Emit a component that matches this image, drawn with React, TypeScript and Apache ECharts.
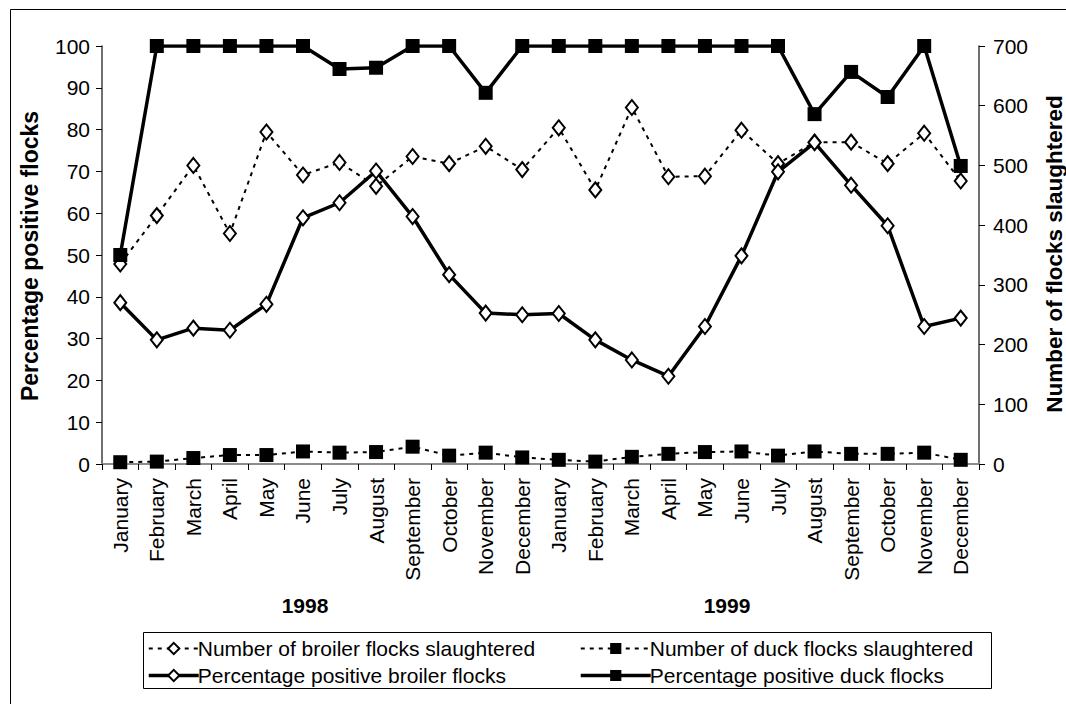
import React, { useEffect, useRef } from "react";
import * as echarts from "echarts";

// Month categories for two consecutive years
const months = [
  "January", "February", "March", "April", "May", "June",
  "July", "August", "September", "October", "November", "December",
];
const categories = [...months, ...months];
const yearLabels = ["1998", "1999"];

// Left axis: percentage, right axis: number of flocks
const pctTicks = { min: 0, max: 100, interval: 10 };
const countTicks = { min: 0, max: 700, interval: 100 };

const broilerSlaughtered = [
  335, 416, 500, 386, 556, 484, 505, 465, 515, 503, 532, 493,
  563, 459, 597, 481, 482, 559, 503, 539, 539, 503, 554, 474,
];
const duckSlaughtered = [
  3, 4, 10, 15, 15, 21, 19, 20, 29, 14, 19, 11,
  7, 4, 12, 17, 20, 21, 14, 21, 17, 17, 19, 7,
];
const pctBroilerPositive = [
  38.6, 29.7, 32.5, 32.0, 38.2, 58.9, 62.5, 70.1, 59.2, 45.3, 36.1, 35.7,
  36.0, 29.7, 24.9, 21.0, 32.9, 49.8, 69.9, 76.9, 66.7, 57.0, 32.9, 34.9,
];
const pctDuckPositive = [
  50, 100, 100, 100, 100, 100, 94.5, 94.8, 100, 100, 88.8, 100,
  100, 100, 100, 100, 100, 100, 100, 83.7, 93.8, 87.8, 100, 71.3,
];

const seriesNames = [
  "Number of broiler flocks slaughtered",
  "Number of duck flocks slaughtered",
  "Percentage positive broiler flocks",
  "Percentage positive duck flocks",
];

const FONT = "'Liberation Sans', Arial, sans-serif";

export default function App() {
  const ref = useRef<HTMLDivElement>(null);

  useEffect(() => {
    if (!ref.current) return;
    const chart = echarts.init(ref.current, undefined, { renderer: "svg" });

    const diamond = {
      symbol: "diamond",
      symbolSize: [12, 15],
      itemStyle: { color: "#ffffff", borderColor: "#000000", borderWidth: 2 },
    };
    const square = {
      symbol: "rect",
      symbolSize: 14,
      itemStyle: { color: "#000000", borderColor: "#000000", borderWidth: 0 },
    };
    const dashed = { color: "#000000", width: 2, type: [4, 5] };
    const solid = { color: "#000000", width: 3.5, type: "solid" };

    const axisText = { color: "#000000", fontSize: 21, fontFamily: FONT };
    const legendText = { color: "#000", fontSize: 21, fontFamily: FONT, padding: [0, 0, 0, -6] };
    const legendBase = {
      orient: "vertical",
      top: 638,
      padding: 0,
      itemGap: 6,
      itemHeight: 14,
      textStyle: legendText,
    };

    chart.setOption({
      animation: false,
      backgroundColor: "#ffffff",
      textStyle: { fontFamily: FONT },
      grid: { left: 102, right: 87, top: 46, bottom: 240, containLabel: false },
      xAxis: [
        {
          type: "category",
          data: categories,
          boundaryGap: true,
          axisLine: { lineStyle: { color: "#404040", width: 1.5 } },
          axisTick: { show: true, interval: 0, length: 6, lineStyle: { color: "#000" } },
          axisLabel: { ...axisText, rotate: 90, interval: 0, margin: 14 },
          splitLine: { show: false },
        },
        {
          type: "category",
          data: categories,
          position: "top",
          axisLine: { lineStyle: { color: "#8c8c8c", width: 2 } },
          axisTick: { show: false },
          axisLabel: { show: false },
        },
      ],
      yAxis: [
        {
          type: "value",
          ...pctTicks,
          position: "left",
          axisLine: { show: true, lineStyle: { color: "#404040", width: 1.5 } },
          axisTick: { show: true, length: 6, lineStyle: { color: "#000" } },
          axisLabel: { ...axisText, margin: 12 },
          splitLine: { show: false },
        },
        {
          type: "value",
          ...countTicks,
          position: "right",
          axisLine: { show: true, lineStyle: { color: "#404040", width: 1.5 } },
          axisTick: { show: true, length: 6, lineStyle: { color: "#000" } },
          axisLabel: { ...axisText, margin: 14 },
          splitLine: { show: false },
        },
      ],
      legend: [
        {
          ...legendBase,
          left: 147,
          itemWidth: 50,
          data: [
            { name: seriesNames[0], lineStyle: { width: 2, type: [4, 5] } },
            { name: seriesNames[2], lineStyle: { width: 3.5, type: "solid" } },
          ],
        },
        {
          ...legendBase,
          left: 579,
          itemWidth: 70,
          data: [
            { name: seriesNames[1], lineStyle: { width: 2, type: [4, 5] } },
            { name: seriesNames[3], lineStyle: { width: 3.5, type: "solid" } },
          ],
        },
      ],
      series: [
        {
          name: seriesNames[0],
          type: "line",
          yAxisIndex: 1,
          data: broilerSlaughtered,
          lineStyle: dashed,
          ...diamond,
          z: 2,
        },
        {
          name: seriesNames[1],
          type: "line",
          yAxisIndex: 1,
          data: duckSlaughtered,
          lineStyle: dashed,
          ...square,
          z: 3,
        },
        {
          name: seriesNames[2],
          type: "line",
          yAxisIndex: 0,
          data: pctBroilerPositive,
          lineStyle: solid,
          ...diamond,
          z: 4,
        },
        {
          name: seriesNames[3],
          type: "line",
          yAxisIndex: 0,
          data: pctDuckPositive,
          lineStyle: solid,
          ...square,
          z: 5,
        },
      ],
      graphic: [
        {
          type: "rect",
          shape: { x: 10.5, y: 9.5, width: 1100, height: 800 },
          style: { fill: "none", stroke: "#000", lineWidth: 1 },
          silent: true,
          z: -1,
        },
        {
          type: "rect",
          shape: { x: 143.5, y: 632.5, width: 848, height: 56 },
          style: { fill: "none", stroke: "#000", lineWidth: 1 },
          silent: true,
        },
        {
          type: "text",
          x: 30,
          y: 256,
          rotation: Math.PI / 2,
          style: {
            text: "Percentage positive flocks",
            font: `bold 23px ${FONT}`,
            fill: "#000",
            align: "center",
            verticalAlign: "middle",
          },
        },
        {
          type: "text",
          x: 1054,
          y: 254,
          rotation: Math.PI / 2,
          style: {
            text: "Number of flocks slaughtered",
            font: `bold 22.5px ${FONT}`,
            fill: "#000",
            align: "center",
            verticalAlign: "middle",
          },
        },
        {
          type: "text",
          x: 305,
          y: 605,
          style: {
            text: yearLabels[0],
            font: `bold 21px ${FONT}`,
            fill: "#000",
            align: "center",
            verticalAlign: "middle",
          },
        },
        {
          type: "text",
          x: 727,
          y: 605,
          style: {
            text: yearLabels[1],
            font: `bold 21px ${FONT}`,
            fill: "#000",
            align: "center",
            verticalAlign: "middle",
          },
        },
      ],
    });

    return () => chart.dispose();
  }, []);

  return (
    <div
      ref={ref}
      style={{ position: "absolute", left: 0, top: 0, width: 1066, height: 704 }}
    />
  );
}
